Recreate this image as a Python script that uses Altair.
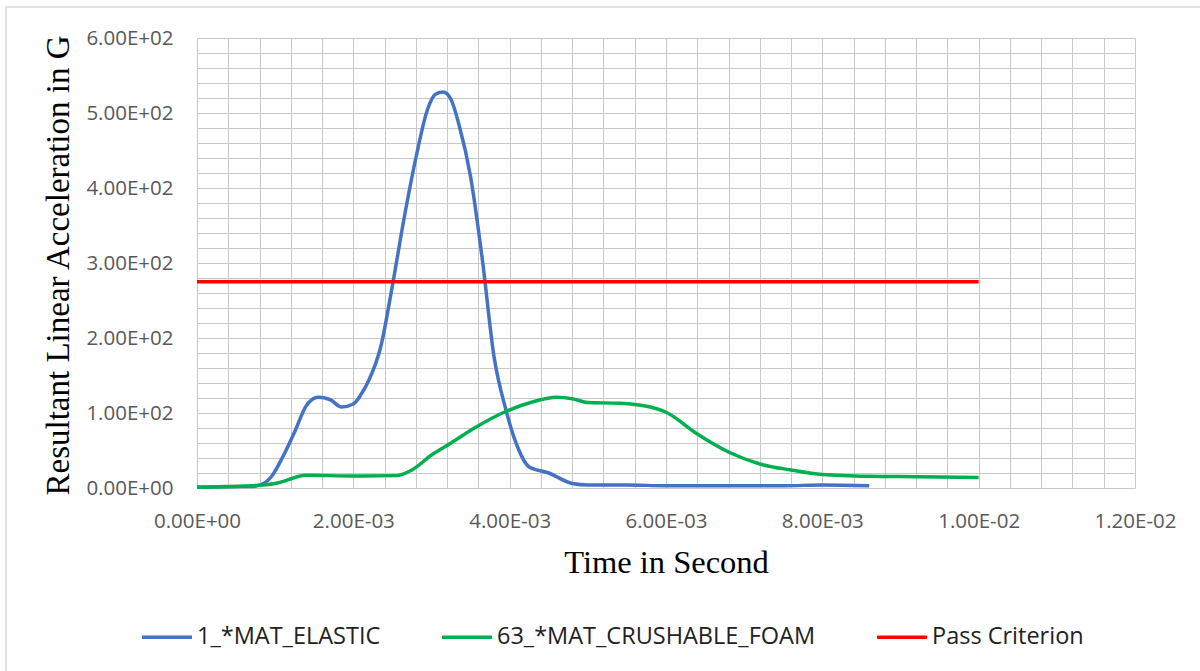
import altair as alt
import pandas as pd

# ---- data ----
elastic_t = [0.0, 0.0004, 0.0007, 0.00085, 0.00095, 0.0011, 0.00125, 0.0014, 0.00155, 0.0017,
             0.00185, 0.0020, 0.0021, 0.0022, 0.00235, 0.0025, 0.00265, 0.0028, 0.00295, 0.00305,
             0.00315, 0.00325, 0.00335, 0.0035, 0.00365, 0.0038, 0.00395, 0.0041, 0.00425, 0.0045,
             0.0048, 0.0050, 0.0055, 0.0060, 0.0065, 0.0070, 0.0075, 0.0080, 0.0086]
elastic_g = [1, 2, 2, 6, 15, 42, 75, 110, 121, 118,
             108, 112, 125, 144, 188, 270, 360, 440, 505, 525,
             528, 518, 485, 415, 305, 175, 105, 55, 28, 20,
             6, 4, 4, 3, 3, 3, 3, 4, 3]

foam_t = [0.0, 0.0007, 0.0010, 0.0014, 0.0020, 0.00255, 0.00275, 0.0030, 0.00325, 0.00355,
          0.00395, 0.0043, 0.0046, 0.0048, 0.0050, 0.0054, 0.0058, 0.0060, 0.0064, 0.0068,
          0.0072, 0.0076, 0.0080, 0.0086, 0.0092, 0.0100]
foam_g = [1, 3, 6, 17, 16, 16.5, 24, 44, 60, 80,
          102, 115, 121, 119, 114, 113, 108, 101, 72, 48,
          32, 24, 18, 15.6, 15, 14]

pass_t = [0.0, 0.0100]
pass_g = [275, 275]

series_names = ["1_*MAT_ELASTIC", "63_*MAT_CRUSHABLE_FOAM", "Pass Criterion"]
series_colors = ["#4472C4", "#00B050", "#FF0000"]

x_major = [0.0, 0.002, 0.004, 0.006, 0.008, 0.010, 0.012]
y_major = [0, 100, 200, 300, 400, 500, 600]
x_grid = [round(i * 0.0004, 4) for i in range(31)]
y_grid = [i * 20 for i in range(31)]

rows = []
for name, ts, gs in zip(series_names, [elastic_t, foam_t, pass_t], [elastic_g, foam_g, pass_g]):
    for i, (t, g) in enumerate(zip(ts, gs)):
        rows.append({"series": name, "t": t, "g": g, "order": i})
df = pd.DataFrame(rows)

W, H = 938, 450
PL, PT = 197, 38

x_label_expr = ("abs(datum.value*500 - round(datum.value*500)) < 0.001 ? "
                "(datum.value == 0 ? '0.00E+00' : (datum.value < 0.0099 ? "
                "format(datum.value*1000, '.2f') + 'E-03' : format(datum.value*100, '.2f') + 'E-02')) : ''")
y_label_expr = ("datum.value % 100 == 0 ? (datum.value == 0 ? '0.00E+00' : "
                "format(datum.value/100, '.2f') + 'E+02') : ''")

lines = alt.Chart(df).mark_line(strokeWidth=3.5, interpolate="monotone").encode(
    x=alt.X("t:Q",
            scale=alt.Scale(domain=[0, 0.012], nice=False, zero=False),
            axis=alt.Axis(values=x_grid, labelExpr=x_label_expr, title="Time in Second",
                          domain=False, ticks=False, grid=True, gridColor="#c8c8c8", gridWidth=1,
                          labelFont="Open Sans", labelFontSize=20.5, labelColor="#595959",
                          labelPadding=23, labelOverlap=False, labelFlush=False,
                          titleFont="Liberation Serif", titleFontSize=32.5, titleFontWeight="normal",
                          titleColor="#000000", titleBaseline="alphabetic", titleY=84)),
    y=alt.Y("g:Q",
            scale=alt.Scale(domain=[0, 600], nice=False),
            axis=alt.Axis(values=y_grid, labelExpr=y_label_expr,
                          title="Resultant Linear Acceleration in G",
                          domain=False, ticks=False, grid=True, gridColor="#c8c8c8", gridWidth=1,
                          labelFont="Open Sans", labelFontSize=20.5, labelColor="#595959",
                          labelPadding=24, labelOverlap=False, labelFlush=False,
                          titleFont="Liberation Serif", titleFontSize=33, titleFontWeight="normal",
                          titleColor="#000000", titleBaseline="alphabetic", titleAngle=270,
                          titleAlign="center", titleX=-129, titleY=227)),
    color=alt.Color("series:N",
                    scale=alt.Scale(domain=series_names, range=series_colors),
                    legend=alt.Legend(title=None, orient="none", direction="horizontal",
                                      legendX=-57, legendY=572,
                                      symbolType="stroke", symbolSize=2500, symbolStrokeWidth=3.5,
                                      labelFont="Open Sans", labelFontSize=23.5, labelColor="#222222",
                                      labelLimit=500,
                                      labelOffset=3, columnPadding=54, padding=0)),
    order="order:Q",
)

frame = alt.Chart(alt.Data(values=[{"a": 1}])).mark_rect(
    fill="transparent", stroke="#d9d9d9", strokeWidth=1.5
).encode(
    x=alt.value(6 - PL), x2=alt.value(1210 - PL),
    y=alt.value(7 - PT), y2=alt.value(680 - PT),
)

chart = alt.layer(frame, lines).properties(
    width=W, height=H,
    autosize=alt.AutoSizeParams(type="none"),
    padding={"left": PL, "top": PT, "right": 1200 - PL - W, "bottom": 671 - PT - H},
    background="white",
).configure_view(stroke=None)

chart.save("out.html", embed_options={"renderer": "svg", "actions": False})
